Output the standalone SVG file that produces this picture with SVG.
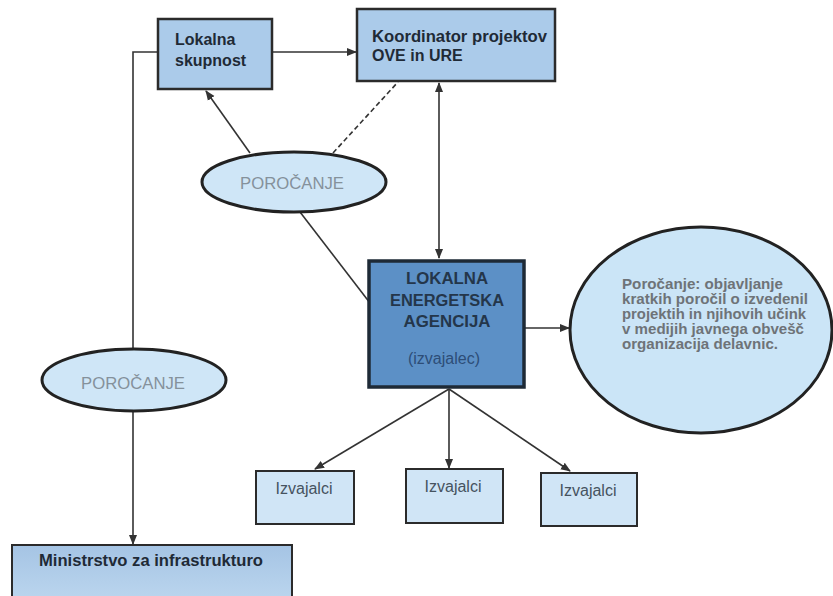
<svg xmlns="http://www.w3.org/2000/svg" width="833" height="596" viewBox="0 0 833 596">
<defs>
<marker id="arr" markerWidth="11" markerHeight="11" refX="9" refY="5.5" orient="auto" markerUnits="userSpaceOnUse">
<path d="M0,1.5 L10,5.5 L0,9.5 Z" fill="#333"/>
</marker>
<marker id="arrs" markerWidth="11" markerHeight="11" refX="1" refY="5.5" orient="auto" markerUnits="userSpaceOnUse">
<path d="M10,1.5 L0,5.5 L10,9.5 Z" fill="#333"/>
</marker>
<linearGradient id="gMin" x1="0" y1="0" x2="0" y2="1">
<stop offset="0" stop-color="#a5c4e4"/>
<stop offset="1" stop-color="#bdd7ef"/>
</linearGradient>
</defs>
<style>
.box{fill:#abcbea;stroke:#2b2b2b;stroke-width:2.5}
.light{fill:#d0e5f6;stroke:#2b2b2b;stroke-width:2}
.ell{fill:#cfe6f7;stroke:#222;stroke-width:3}
.t{font-family:"Liberation Sans",Arial,sans-serif;font-size:16px;font-weight:bold;fill:#1f2a36}
.lea{font-family:"Liberation Sans",Arial,sans-serif;font-size:16px;font-weight:bold;fill:#24364a;text-anchor:middle}
.pe{font-family:"Liberation Sans",Arial,sans-serif;font-size:16px;fill:#85919b;text-anchor:middle}
.bt{font-family:"Liberation Sans",Arial,sans-serif;font-size:14px;font-weight:bold;fill:#6e7378}
.iz{font-family:"Liberation Sans",Arial,sans-serif;font-size:16px;fill:#46535f;text-anchor:middle}
.c{fill:none;stroke:#333;stroke-width:1.6}
</style>
<rect width="833" height="596" fill="#ffffff"/>
<g id="connectors">
<line class="c" x1="272" y1="52" x2="356" y2="52" marker-end="url(#arr)"/>
<polyline class="c" points="158,52 133,52 133,349"/>
<line class="c" x1="133" y1="411" x2="133" y2="544" marker-end="url(#arr)"/>
<line class="c" x1="250" y1="153" x2="206" y2="91" marker-end="url(#arr)"/>
<line class="c" x1="333" y1="153" x2="398" y2="82" stroke-dasharray="5,3" stroke-width="2.2"/>
<line class="c" x1="439" y1="83" x2="439" y2="258" marker-start="url(#arrs)" marker-end="url(#arr)"/>
<line class="c" x1="300" y1="212" x2="370" y2="303" stroke-width="1.2"/>
<line class="c" x1="524" y1="328" x2="569" y2="328" marker-end="url(#arr)"/>
<line class="c" x1="449" y1="389" x2="315" y2="469" marker-end="url(#arr)"/>
<line class="c" x1="449" y1="389" x2="449" y2="468" marker-end="url(#arr)"/>
<line class="c" x1="449" y1="389" x2="570" y2="471" marker-end="url(#arr)"/>
</g>
<g id="lokalna-skupnost">
<rect class="box" x="158" y="19" width="114" height="70" stroke-width="4"/>
<text class="t" x="175" y="45">Lokalna</text>
<text class="t" x="175" y="66">skupnost</text>
</g>
<g id="koordinator">
<rect class="box" x="357" y="9" width="198" height="72"/>
<text class="t" x="372" y="42" textLength="175" lengthAdjust="spacingAndGlyphs">Koordinator projektov</text>
<text class="t" x="372" y="61">OVE in URE</text>
</g>
<g id="porocanje-1">
<ellipse class="ell" cx="294" cy="182" rx="92" ry="30"/>
<text class="pe" x="292" y="189" textLength="104" lengthAdjust="spacingAndGlyphs">POROČANJE</text>
</g>
<g id="porocanje-2">
<ellipse class="ell" cx="134" cy="380" rx="92" ry="31"/>
<text class="pe" x="133" y="389" textLength="104" lengthAdjust="spacingAndGlyphs">POROČANJE</text>
</g>
<g id="lea">
<rect x="369" y="261" width="155" height="126" fill="#5c90c6" stroke="#1e2a36" stroke-width="3.5"/>
<text class="lea" x="447" y="284" textLength="82" lengthAdjust="spacingAndGlyphs">LOKALNA</text>
<text class="lea" x="447" y="306" textLength="114" lengthAdjust="spacingAndGlyphs">ENERGETSKA</text>
<text class="lea" x="447" y="327" textLength="87" lengthAdjust="spacingAndGlyphs">AGENCIJA</text>
<text class="lea" x="444" y="364" style="font-weight:normal;fill:#2d4d77">(izvajalec)</text>
</g>
<g id="porocanje-opis">
<ellipse cx="701" cy="330" rx="131" ry="103" fill="#cbe5f7" stroke="#222" stroke-width="3"/>
<text class="bt" x="622" y="289" textLength="161" lengthAdjust="spacingAndGlyphs">Poročanje: objavljanje</text>
<text class="bt" x="622" y="304" textLength="186" lengthAdjust="spacingAndGlyphs">kratkih poročil o izvedenil</text>
<text class="bt" x="622" y="319" textLength="184" lengthAdjust="spacingAndGlyphs">projektih in njihovih učink</text>
<text class="bt" x="622" y="334" textLength="182" lengthAdjust="spacingAndGlyphs">v medijih javnega obvešč</text>
<text class="bt" x="622" y="349" textLength="156" lengthAdjust="spacingAndGlyphs">organizacija delavnic.</text>
</g>
<g id="izvajalci-1">
<rect class="light" x="256" y="471" width="98" height="53"/>
<text class="iz" x="304" y="494">Izvajalci</text>
</g>
<g id="izvajalci-2">
<rect class="light" x="406" y="469" width="97" height="54"/>
<text class="iz" x="453" y="492">Izvajalci</text>
</g>
<g id="izvajalci-3">
<rect class="light" x="541" y="473" width="96" height="53"/>
<text class="iz" x="588" y="496">Izvajalci</text>
</g>
<g id="ministrstvo">
<rect x="12" y="545" width="280" height="60" fill="url(#gMin)" stroke="#2b2b2b" stroke-width="2"/>
<text class="t" x="39" y="566" textLength="224" lengthAdjust="spacingAndGlyphs">Ministrstvo za infrastrukturo</text>
</g>
</svg>
